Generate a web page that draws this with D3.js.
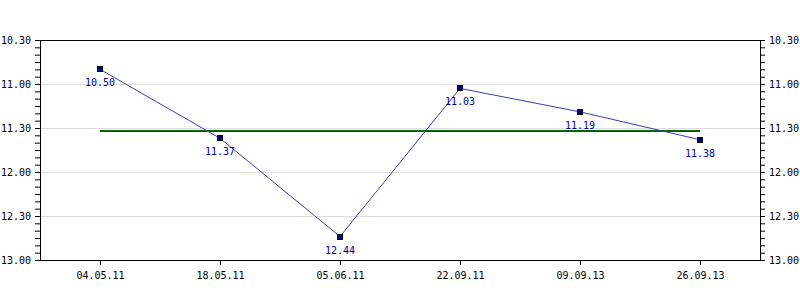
<!DOCTYPE html>
<html>
<head>
<meta charset="utf-8">
<script src="https://cdn.jsdelivr.net/npm/d3@7"></script>
<style>
  body { margin: 0; background: #fff; }
  text { font-family: "DejaVu Sans Mono", monospace; font-size: 10px; }
</style>
</head>
<body>
<div id="chart"></div>
<script>
// race dates and finishing times (min.sec)
var dates = ["04.05.11", "18.05.11", "05.06.11", "22.09.11", "09.09.13", "26.09.13"];
var times = ["10.50", "11.37", "12.44", "11.03", "11.19", "11.38"];
var yTicks = ["10.30", "11.00", "11.30", "12.00", "12.30", "13.00"];

function toSec(s) {
  var p = s.split(".");
  return +p[0] * 60 + +p[1];
}
function fmt(sec) {
  var m = Math.floor(sec / 60), s = Math.round(sec % 60);
  return m + "." + (s < 10 ? "0" + s : s);
}

var data = dates.map(function (d, i) { return { date: d, t: toSec(times[i]), label: times[i] }; });

var margin = { top: 40, right: 40, bottom: 40, left: 40 },
  width = 800 - margin.left - margin.right,
  height = 300 - margin.top - margin.bottom;

var svg = d3.select("#chart")
  .append("svg")
  .attr("width", 800)
  .attr("height", 300)
  .append("g")
  .attr("transform", "translate(" + margin.left + "," + margin.top + ")");

var x = d3.scalePoint()
  .domain(dates)
  .range([0, width])
  .padding(0.5);

var tickSec = yTicks.map(toSec);
var y = d3.scaleLinear()
  .domain([tickSec[0], tickSec[tickSec.length - 1]])
  .range([0, height]);

// grid lines
svg.selectAll(".grid")
  .data(tickSec.slice(1, -1))
  .enter()
  .append("line")
  .attr("x1", 0).attr("x2", width)
  .attr("y1", function (d) { return Math.round(y(d)) + 0.5; })
  .attr("y2", function (d) { return Math.round(y(d)) + 0.5; })
  .attr("stroke", "#dddddd");

// minor ticks every 5 seconds
var minor = d3.range(tickSec[0], tickSec[tickSec.length - 1] + 1, 5);

function yAxis(axis) {
  return axis.tickValues(minor)
    .tickSize(5)
    .tickPadding(4)
    .tickFormat(function (d) { return d % 30 === 0 ? fmt(d) : ""; });
}

var left = svg.append("g").call(yAxis(d3.axisLeft(y)));
var right = svg.append("g")
  .attr("transform", "translate(" + width + ",0)")
  .call(yAxis(d3.axisRight(y)));

var bottom = svg.append("g")
  .attr("transform", "translate(0," + height + ")")
  .call(d3.axisBottom(x).tickSize(5).tickPadding(7));

[left, right, bottom].forEach(function (g) {
  g.select(".domain").attr("stroke", "#000").attr("d", null);
  g.selectAll("line").attr("stroke", "#000");
  g.selectAll("text").attr("fill", "#000").style("font-size", "10px")
    .style("font-family", "'DejaVu Sans Mono', monospace");
});

// frame
svg.append("rect")
  .attr("x", 0.5).attr("y", 0.5)
  .attr("width", width).attr("height", height)
  .attr("fill", "none")
  .attr("stroke", "#000");

// average line
var avg = d3.mean(data, function (d) { return d.t; });
svg.append("line")
  .attr("x1", x(dates[0])).attr("x2", x(dates[dates.length - 1]))
  .attr("y1", Math.round(y(avg))).attr("y2", Math.round(y(avg)))
  .attr("stroke", "#006400")
  .attr("stroke-width", 2);

// data line
svg.append("path")
  .datum(data)
  .attr("fill", "none")
  .attr("stroke", "#3c3cb8")
  .attr("stroke-width", 1)
  .attr("d", d3.line()
    .x(function (d) { return x(d.date); })
    .y(function (d) { return y(d.t); }));

svg.selectAll(".pt")
  .data(data)
  .enter()
  .append("rect")
  .attr("x", function (d) { return Math.round(x(d.date)) - 2.5; })
  .attr("y", function (d) { return Math.round(y(d.t)) - 2.5; })
  .attr("width", 5).attr("height", 5)
  .attr("fill", "#000080")
  .attr("stroke", "#000");

svg.selectAll(".lbl")
  .data(data)
  .enter()
  .append("text")
  .attr("x", function (d) { return x(d.date); })
  .attr("y", function (d) { return y(d.t) + 17; })
  .attr("text-anchor", "middle")
  .attr("fill", "#0000a0")
  .text(function (d) { return d.label; });
</script>
</body>
</html>
